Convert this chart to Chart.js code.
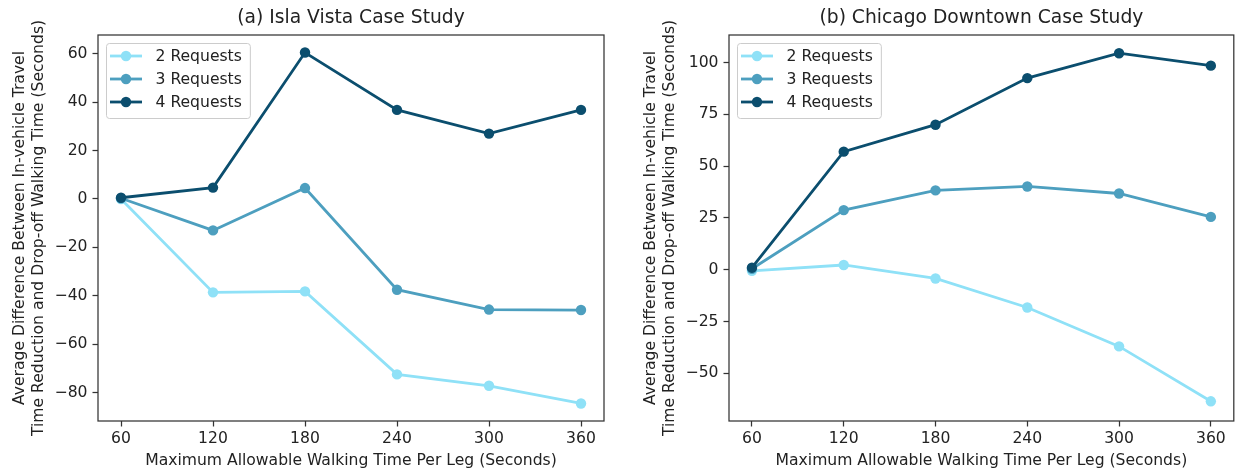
<!DOCTYPE html>
<html>
<head>
<meta charset="utf-8">
<script src="https://cdn.jsdelivr.net/npm/chart.js@4/dist/chart.umd.min.js"></script>
<style>
  html, body { margin: 0; padding: 0; background: #fff; overflow: hidden; }
  #wrap { position: relative; width: 1239px; height: 471px; }
  canvas { position: absolute; top: 0; }
  #islaVista { left: 0; }
  #chicago { left: 631px; }
</style>
</head>
<body>
<div id="wrap">
  <canvas id="islaVista" width="615" height="471"></canvas>
  <canvas id="chicago" width="608" height="471"></canvas>
</div>
<script>
// Maximum allowable walking time per leg (seconds)
const walkTimes = [60, 120, 180, 240, 300, 360];
const seriesLabels = ['2 Requests', '3 Requests', '4 Requests'];

// (a) Isla Vista
const islaVista2 = [0, -38.6, -38.2, -72.5, -77.2, -84.5];
const islaVista3 = [0.3, -13, 4.5, -37.5, -45.7, -45.9];
const islaVista4 = [0.5, 4.7, 60.5, 36.8, 27, 36.8];
const islaVistaYTicks = [-80, -60, -40, -20, 0, 20, 40, 60];

// (b) Chicago Downtown
const chicago2 = [-0.5, 2.3, -4.2, -18.2, -37, -63.5];
const chicago3 = [0.5, 28.8, 38.3, 40.2, 36.8, 25.5];
const chicago4 = [1, 57, 70, 92.5, 104.5, 98.5];
const chicagoYTicks = [-50, -25, 0, 25, 50, 75, 100];

const colors = ['#8fe1f7', '#4d9fbf', '#0b4e6e'];
const FONT = '"DejaVu Sans", "Liberation Sans", sans-serif';
const FS = 15.6;
const TEXT = '#222';

const fmt = v => (v < 0 ? '\u2212' + Math.abs(v) : String(v));

// Box around the plot area, the panel title and a matplotlib-style legend
const framePlugin = {
  id: 'frame',
  afterDraw(chart, args, opts) {
    const { ctx, chartArea: a } = chart;
    ctx.save();
    ctx.strokeStyle = '#333';
    ctx.lineWidth = 1.25;
    ctx.strokeRect(a.left, a.top, a.right - a.left, a.bottom - a.top);

    ctx.fillStyle = TEXT;
    ctx.font = `18.7px ${FONT}`;
    ctx.textAlign = 'center';
    ctx.textBaseline = 'middle';
    ctx.fillText(opts.title, (a.left + a.right) / 2, 18);

    ctx.font = `${FS}px ${FONT}`;
    const sets = chart.data.datasets;
    const textW = Math.max(...sets.map(d => ctx.measureText(d.label).width));
    const bx = a.left + 8, by = a.top + 8;
    const h0 = bx + 4, h1 = h0 + 32, tx = h1 + 13.5;
    const bw = tx + textW + 8 - bx, bh = 75;
    ctx.beginPath();
    ctx.roundRect(bx + 0.5, by + 0.5, bw, bh, 3);
    ctx.fillStyle = 'rgba(255,255,255,0.8)';
    ctx.fill();
    ctx.strokeStyle = '#cccccc';
    ctx.lineWidth = 1;
    ctx.stroke();

    sets.forEach((d, i) => {
      const y = by + 13 + i * 23;
      ctx.strokeStyle = d.borderColor;
      ctx.lineWidth = d.borderWidth;
      ctx.beginPath();
      ctx.moveTo(h0, y);
      ctx.lineTo(h1, y);
      ctx.stroke();
      ctx.fillStyle = d.borderColor;
      ctx.beginPath();
      ctx.arc((h0 + h1) / 2, y, d.pointRadius, 0, Math.PI * 2);
      ctx.fill();
      ctx.fillStyle = TEXT;
      ctx.textAlign = 'left';
      ctx.textBaseline = 'middle';
      ctx.fillText(d.label, tx, y + 1);
    });
    ctx.restore();
  }
};

function series(label, values, color, order) {
  return {
    label,
    data: walkTimes.map((x, i) => ({ x, y: values[i] })),
    borderColor: color,
    backgroundColor: color,
    pointBackgroundColor: color,
    pointBorderWidth: 0,
    pointRadius: 5.2,
    borderWidth: 2.8,
    tension: 0,
    order
  };
}

function makeChart(id, title, s2, s3, s4, yMin, yMax, yTicks, rightPad) {
  return new Chart(document.getElementById(id), {
    type: 'line',
    data: {
      datasets: [
        series(seriesLabels[0], s2, colors[0], 2),
        series(seriesLabels[1], s3, colors[1], 1),
        series(seriesLabels[2], s4, colors[2], 0)
      ]
    },
    options: {
      responsive: false,
      animation: false,
      layout: { padding: { top: 35, right: rightPad, left: 0, bottom: 0 } },
      plugins: {
        legend: { display: false },
        tooltip: { enabled: false },
        frame: { title }
      },
      scales: {
        x: {
          type: 'linear',
          min: 45,
          max: 375,
          afterBuildTicks: s => { s.ticks = walkTimes.map(v => ({ value: v })); },
          afterFit: s => { s.height = 50; },
          grid: { display: true, drawOnChartArea: false, drawTicks: true, tickLength: 5.5, tickColor: '#333', tickWidth: 1.25 },
          border: { display: false },
          ticks: { color: TEXT, font: { family: FONT, size: FS }, padding: 3, maxRotation: 0, autoSkip: false, callback: v => fmt(v) },
          title: {
            display: true,
            text: 'Maximum Allowable Walking Time Per Leg (Seconds)',
            color: TEXT,
            font: { family: FONT, size: FS, lineHeight: 1.2 },
            padding: { top: 0, bottom: 1 }
          }
        },
        y: {
          min: yMin,
          max: yMax,
          afterBuildTicks: s => { s.ticks = yTicks.map(v => ({ value: v })); },
          afterFit: s => { s.width = 98; },
          grid: { display: true, drawOnChartArea: false, drawTicks: true, tickLength: 5.5, tickColor: '#333', tickWidth: 1.25 },
          border: { display: false },
          ticks: { color: TEXT, font: { family: FONT, size: FS }, padding: 5, autoSkip: false, callback: v => fmt(v) },
          title: {
            display: true,
            text: ['Average Difference Between In-vehicle Travel', 'Time Reduction and Drop-off Walking Time (Seconds)'],
            color: TEXT,
            font: { family: FONT, size: FS, lineHeight: 1.2 },
            padding: { top: 10.6, bottom: 0 }
          }
        }
      }
    },
    plugins: [framePlugin]
  });
}

makeChart('islaVista', '(a) Isla Vista Case Study', islaVista2, islaVista3, islaVista4, -91.75, 67.75, islaVistaYTicks, 11);
makeChart('chicago', '(b) Chicago Downtown Case Study', chicago2, chicago3, chicago4, -73, 113.3, chicagoYTicks, 4);
</script>
</body>
</html>
